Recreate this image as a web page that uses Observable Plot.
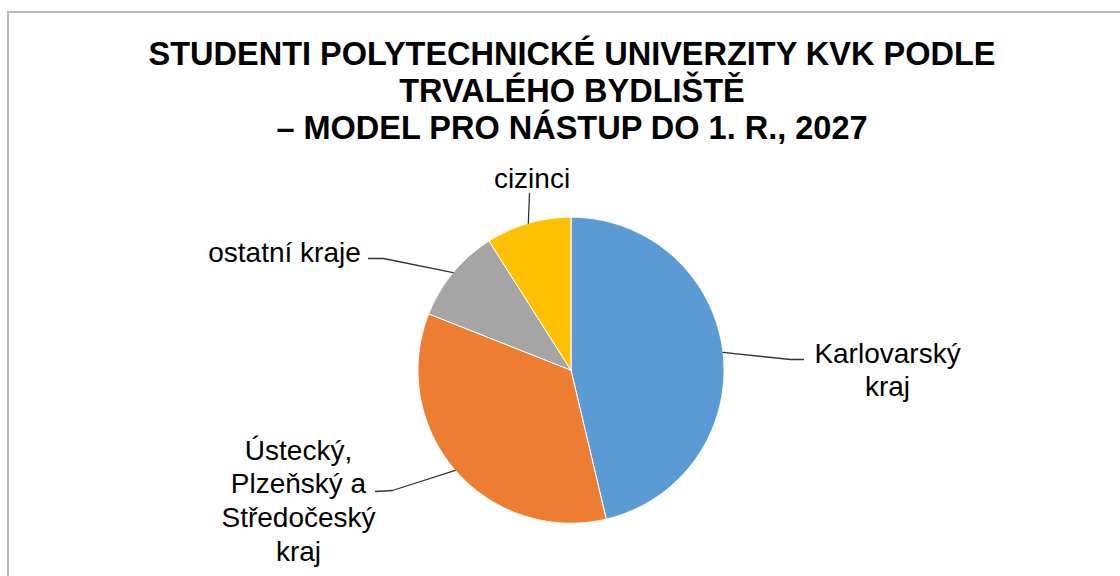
<!DOCTYPE html>
<html><head><meta charset="utf-8">
<script src="https://cdn.jsdelivr.net/npm/d3@7"></script>
<script src="https://cdn.jsdelivr.net/npm/@observablehq/plot@0.6"></script>
<style>
html,body{margin:0;padding:0;background:#fff;overflow:hidden;width:1120px;height:576px}
#frame{position:absolute;left:7px;top:11px;width:1200px;height:700px;border:2px solid #b8b8b8;pointer-events:none}
#title{box-sizing:border-box;width:1120px;height:148px;padding-top:36px;padding-left:24px;font:bold 32.5px "Liberation Sans",Arial,sans-serif;line-height:37px;text-align:center;white-space:nowrap;color:#000}
#chart svg{display:block}
</style></head>
<body>
<div id="title">STUDENTI POLYTECHNICKÉ UNIVERZITY KVK PODLE<br>TRVALÉHO BYDLIŠTĚ<br>– MODEL PRO NÁSTUP DO 1. R., 2027</div>
<div id="chart"></div>
<div id="frame"></div>
<script>
// ---- data ----
const categories = ["Karlovarský kraj", "Ústecký, Plzeňský a Středočeský kraj", "ostatní kraje", "cizinci"];
const shares = [46.3, 34.7, 10.0, 9.0];
const labelTexts = ["Karlovarský\nkraj", "Ústecký,\nPlzeňský a\nStředočeský\nkraj", "ostatní kraje", "cizinci"];
// ---- styles / layout ----
const colors = ["#5B9BD5", "#ED7D31", "#A5A5A5", "#FFC000"];
const R = 153;               // pie radius (px units)
const W = 1120, H = 428, cx = 570.5, cy = 221.7;
const labelLayout = [
  {x: 316.5, y: 31.3, elbow: [219.5, 10.7], end: [232.5, 10.7]},
  {x: -272.5, y: -65.7, elbow: [-178.5, -120.3], end: [-195.5, -121.3]},
  {x: -286.5, y: 132.3, elbow: [-187.5, 111.7], end: [-202.5, 111.7]},
  {x: -39, y: 206.3, elbow: null, end: [-41.5, 176.7]}
];

const arcs = d3.pie().sort(null).startAngle(0)(shares);
const wedgePts = [];
arcs.forEach((a, i) => {
  const name = categories[i];
  wedgePts.push({name, x: 0, y: 0});
  const n = Math.max(2, Math.ceil((a.endAngle - a.startAngle) / (Math.PI / 360)));
  for (let k = 0; k <= n; k++) {
    const t = a.startAngle + (a.endAngle - a.startAngle) * k / n;
    wedgePts.push({name, x: R * Math.sin(t), y: R * Math.cos(t)});
  }
  wedgePts.push({name, x: 0, y: 0});
});

const leaderPts = [];
arcs.forEach((a, i) => {
  const mid = (a.startAngle + a.endAngle) / 2;
  const L = labelLayout[i];
  leaderPts.push({name: categories[i], x: R * Math.sin(mid), y: R * Math.cos(mid)});
  if (L.elbow) leaderPts.push({name: categories[i], x: L.elbow[0], y: L.elbow[1]});
  leaderPts.push({name: categories[i], x: L.end[0], y: L.end[1]});
});

const labels = categories.map((c, i) => ({name: c, text: labelTexts[i], x: labelLayout[i].x, y: labelLayout[i].y}));

const chart = Plot.plot({
  width: W, height: H,
  marginLeft: 0, marginRight: 0, marginTop: 0, marginBottom: 0,
  x: {domain: [-cx, W - cx], axis: null},
  y: {domain: [-(H - cy), cy], axis: null},
  color: {domain: categories, range: colors},
  style: {background: "transparent", overflow: "visible", fontFamily: "'Liberation Sans', Arial, sans-serif"},
  marks: [
    Plot.line(wedgePts, {x: "x", y: "y", z: "name", fill: "name", stroke: "white", strokeWidth: 1, curve: "linear"}),
    Plot.line(leaderPts, {x: "x", y: "y", z: "name", stroke: "#333", strokeWidth: 1.3}),
    Plot.text(labels, {x: "x", y: "y", text: "text", textAnchor: "middle", lineAnchor: "top", fontSize: 28, lineHeight: 1.2, fill: "#000"})
  ]
});
document.getElementById("chart").appendChild(chart);
</script>
</body></html>
